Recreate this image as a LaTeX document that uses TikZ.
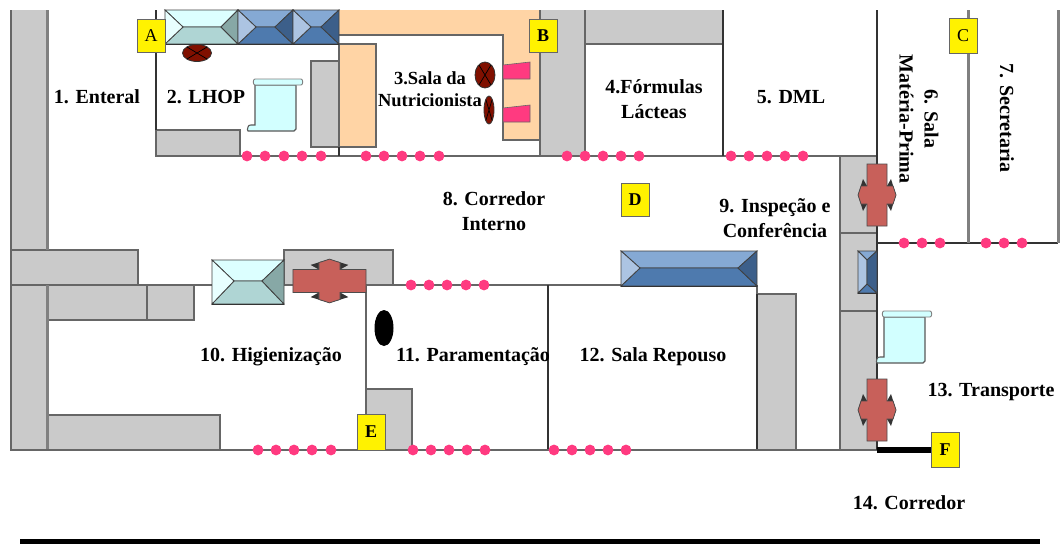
\documentclass[tikz,border=0pt]{standalone}
\usepackage{fontspec}
\setmainfont{Liberation Serif}
\definecolor{wallgray}{HTML}{CACACA}
\definecolor{linegray}{HTML}{666666}
\definecolor{peach}{HTML}{FFD4A5}
\definecolor{dotpink}{HTML}{FF3A80}
\definecolor{crossred}{HTML}{C8605A}
\definecolor{darkred}{HTML}{801000}
\definecolor{scrollcyan}{HTML}{D2FFFF}
\definecolor{ct}{HTML}{DCFFFF}\definecolor{cl}{HTML}{E8FFFF}\definecolor{cr}{HTML}{87A8A6}\definecolor{cb}{HTML}{AFD5D4}
\definecolor{bt}{HTML}{85A9D4}\definecolor{bl}{HTML}{ACC4E2}\definecolor{br}{HTML}{3C5F8A}\definecolor{bb}{HTML}{4E7AAE}
\tikzset{
  wall/.style={fill=wallgray,draw=linegray,line width=1.2pt},
  peachbox/.style={fill=peach,draw=linegray,line width=1.2pt},
  partition/.style={draw=linegray,line width=1.6pt},
  lightwall/.style={draw=black!50,line width=3pt},
  darkwall/.style={draw=black!80,line width=2pt},
  letterbox/.style={fill=yellow,draw=linegray,line width=.8pt,inner sep=0pt,font=\fontsize{18}{18}\selectfont},
  roomlabel/.style={inner sep=0pt,align=center,font=\fontsize{20}{25}\selectfont\bfseries},
  bevelline/.style={draw=black!75,line width=.8pt},
  furniture/.style={fill=darkred,draw=black!80,line width=.8pt},
  seat/.style={fill=dotpink,draw=black!60,line width=.6pt},
  redcross/.pic={
    \fill[black!80] (-19,0)--(-14,-16)--(-10,-9)--(10,-9)--(14,-16)--(19,0)--(14,16)--(10,9)--(-10,9)--(-14,16)--cycle;
    \draw[fill=crossred,draw=black!70,line width=.8pt] (-10,-31)--(10,-31)--(10,-9)--(16,-9)--(19,0)--(16,9)--(10,9)--(10,31)--(-10,31)--(-10,9)--(-16,9)--(-19,0)--(-16,-9)--(-10,-9)--cycle;
  },
  scroll/.pic={
    \draw[fill=scrollcyan,draw=black!65,line width=1.1pt] (0,6)--(41,6)--(41,50) to[out=90,in=0] (39,52)--(-7,52) to[out=180,in=270] (-7,48) to[out=90,in=180] (-4,46)--(0,46)--cycle;
    \draw[fill=scrollcyan,draw=gray,line width=.9pt] (0,0)--(46,0) to[out=0,in=0] (46,6)--(0,6) to[out=180,in=180] cycle;
  }
}
\newcommand{\bevelbox}[9]{% x1 y1 x2 y2 ix1 iy1 ix2 iy2 scheme
  \draw[bevelline,fill=#9t] (#1,#2)--(#3,#2)--(#7,#6)--(#5,#6)--cycle;
  \draw[bevelline,fill=#9b] (#1,#4)--(#3,#4)--(#7,#8)--(#5,#8)--cycle;
  \draw[bevelline,fill=#9l] (#1,#2)--(#5,#6)--(#5,#8)--(#1,#4)--cycle;
  \draw[bevelline,fill=#9r] (#3,#2)--(#7,#6)--(#7,#8)--(#3,#4)--cycle;
  \draw[black!80,line width=1pt] (#1,#4)--(#3,#4);
}
\newcommand{\dotrow}[2]{\foreach \dx in {#2}{\fill[dotpink] (\dx,#1) circle (5.4);}}
\begin{document}
\begin{tikzpicture}[x=1pt,y=-1pt]
\useasboundingbox[fill=white] (0,0) rectangle (1061,544);
% gray walls, left
\draw[wall] (11,0) rectangle (47,250);
\draw[wall] (11,250) rectangle (138,285);
\draw[wall] (11,285) rectangle (47,450);
\draw[wall] (47,285) rectangle (147,320);
\draw[wall] (147,285) rectangle (194,320);
\draw[wall] (47,415) rectangle (220,450);
\draw[lightwall] (47,0)--(47,250) (47,285)--(47,450);
% upper rooms
\draw[wall] (156,130) rectangle (240,156);
\draw[wall] (311,61) rectangle (339,147);
\fill[peach] (339,0) rectangle (540,35);
\draw[peachbox] (503,35) rectangle (540,140);
\fill[peach] (504,30) rectangle (539,38);
\draw[partition] (339,35)--(503,35);
\draw[peachbox] (339,44) rectangle (376,147);
\draw[wall] (540,0) rectangle (585,156);
\draw[wall] (585,0) rectangle (723,44);
% right block
\draw[wall] (840,156) rectangle (877,233);
\draw[wall] (840,233) rectangle (877,311);
\draw[wall] (840,311) rectangle (877,450);
% lower walls
\draw[wall] (284,250) rectangle (393,285);
\draw[wall] (757,294) rectangle (796,450);
\draw[wall] (366,389) rectangle (412,450);
% partitions
\draw[partition] (240,156)--(540,156);
\draw[partition] (585,156)--(840,156);
\draw[darkwall] (339,147)--(339,156);
\draw[darkwall] (156,0)--(156,130);
\draw[darkwall] (723,0)--(723,156);
\draw[partition] (138,285)--(212,285);
\draw[partition] (393,285)--(621,285);
\draw[partition] (757,285)--(757,294);
\draw[partition] (366,285)--(366,450);
\draw[darkwall] (548,285)--(548,450);
\draw[darkwall] (757,294)--(757,450);
\draw[partition] (11,450)--(877,450);
\draw[darkwall] (877,0)--(877,450);
\draw[darkwall] (877,243)--(1058,243);
\draw[lightwall] (968,0)--(968,243);
\draw[lightwall] (1058,0)--(1058,243);
\draw[black,line width=6pt] (877,450)--(931,450);
\draw[black,line width=5pt] (20,541)--(1040,541);
% dots
\dotrow{156}{247,265,284,302,321,366,384,402,420,439,567,585,603,621,639,731,749,767,785,803}
\dotrow{285}{411,429,447,466,484}
\dotrow{243}{904,922,940,986,1004,1022}
\dotrow{450}{258,276,294,312,331,413,431,449,467,485,554,572,590,608,626}
% windows
\fill[white] (0,0) rectangle (1061,10);
\bevelbox{165}{10}{238}{44}{183}{27}{221}{27}{c}
\bevelbox{238}{10}{293}{44}{256}{27}{275}{27}{b}
\bevelbox{293}{10}{339}{44}{311}{27}{321}{27}{b}
\bevelbox{212}{260}{284}{304}{234}{281}{262}{281}{c}
\bevelbox{621}{251}{757}{286}{640}{268}{738}{268}{b}
\bevelbox{858}{251}{877}{293}{867}{260}{867}{284}{b}
% furniture
\draw[furniture] (197,53) ellipse (14.5 and 8.5);
\draw[black,line width=.7pt] (187,47)--(207,59) (187,59)--(207,47);
\draw[furniture] (485,75) ellipse (10 and 13);
\draw[black,line width=.7pt] (479,65)--(491,85) (491,65)--(479,85);
\draw[furniture] (489,110) ellipse (5 and 14);
\draw[black,line width=.7pt] (486,100)--(492,120) (492,100)--(486,120);
\draw[seat] (503,65)--(530,62)--(530,79)--(503,79)--cycle;
\draw[seat] (503,108)--(530,105)--(530,122)--(503,122)--cycle;
\fill[black] (384,328) ellipse (9.5 and 18);
% scrolls
\pic at (255,79) {scroll};
\pic at (884,311) {scroll};
% red crosses
\pic at (877,195) {redcross};
\pic at (877,410) {redcross};
\pic[rotate=90,yscale=1.18,xscale=1.15] at (329.5,281) {redcross};
% letter boxes
\node[letterbox,minimum width=28pt,minimum height=33pt] (boxA) at (151,35.5) {A};
\node[letterbox,minimum width=28pt,minimum height=33pt] (boxB) at (543,35.5) {\bfseries B};
\node[letterbox,minimum width=28pt,minimum height=35pt] (boxC) at (963,35.5) {C};
\node[letterbox,minimum width=28pt,minimum height=33pt] (boxD) at (635,200) {\bfseries D};
\node[letterbox,minimum width=28pt,minimum height=36pt] (boxE) at (371,432) {\bfseries E};
\node[letterbox,minimum width=28pt,minimum height=35pt] (boxF) at (945,449.5) {\bfseries F};
% labels
\node[roomlabel] (r1) at (97,97) {1. Enteral};
\node[roomlabel] (r2) at (206,97) {2. LHOP};
\node[roomlabel,font=\fontsize{18.5}{22}\selectfont\bfseries] (r3) at (430,89) {3.Sala da\\Nutricionista};
\node[roomlabel] (r4) at (654,99) {4.Fórmulas\\Lácteas};
\node[roomlabel] (r5) at (791,97) {5. DML};
\node[roomlabel,rotate=-90] (r6) at (919,119) {6. Sala\\Matéria-Prima};
\node[roomlabel,rotate=-90] (r7) at (1007,118) {7. Secretaria};
\node[roomlabel] (r8) at (494,211) {8. Corredor\\Interno};
\node[roomlabel] (r9) at (775,218) {9. Inspeção e\\Conferência};
\node[roomlabel] (r10) at (271,357) {10. Higienização};
\node[roomlabel] (r11) at (473,357) {11. Paramentação};
\node[roomlabel] (r12) at (653,357) {12. Sala Repouso};
\node[roomlabel] (r13) at (991,392) {13. Transporte};
\node[roomlabel] (r14) at (909,503) {14. Corredor};
\end{tikzpicture}
\end{document}
